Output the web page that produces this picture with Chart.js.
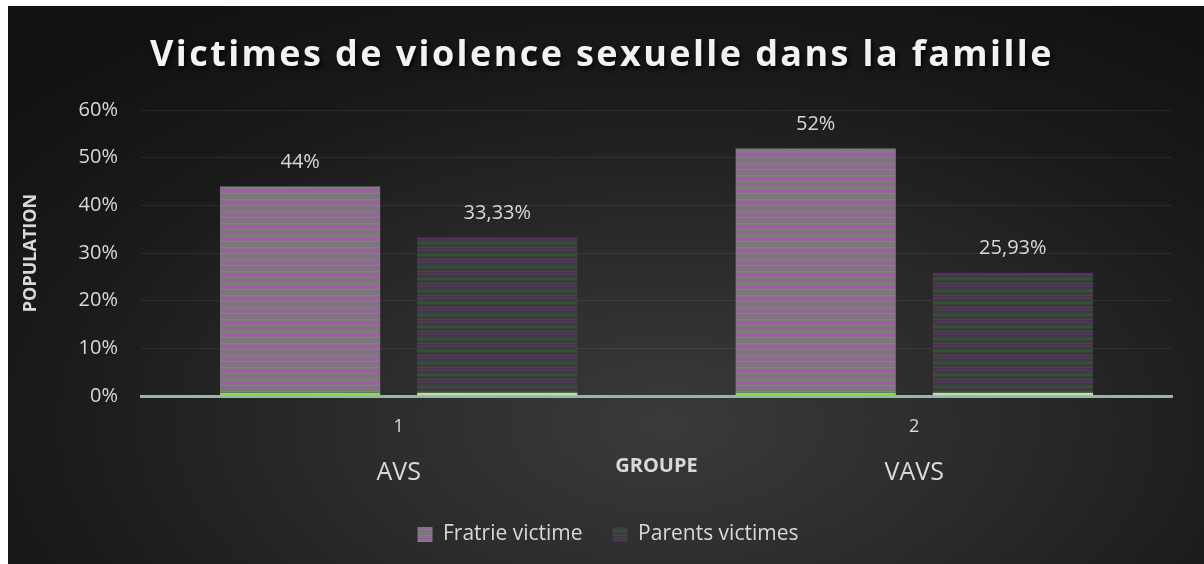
<!DOCTYPE html>
<html>
<head>
<meta charset="utf-8">
<script src="https://cdn.jsdelivr.net/npm/chart.js@4.4.1/dist/chart.umd.min.js"></script>
<style>
  html, body { margin: 0; padding: 0; background: #ffffff; }
  #wrap {
    position: absolute; left: 8px; top: 6px; width: 1196px; height: 558px;
    background: radial-gradient(ellipse 75% 90% at 55% 75%, #3a3a3a 0%, #2b2b2b 35%, #1a1a1a 70%, #111111 100%);
  }
  canvas { display: block; }
</style>
</head>
<body>
<div id="wrap"><canvas id="chart" width="1196" height="558"></canvas></div>
<script>
// Victimes de violence sexuelle dans la famille
const chartTitle = 'Victimes de violence sexuelle dans la famille';
const categories = ['1', '2'];
const groupNames = ['AVS', 'VAVS'];
const seriesNames = ['Fratrie victime', 'Parents victimes'];
const fratrie = [44, 52];
const parents = [33.33, 25.93];
const yTicks = [0, 10, 20, 30, 40, 50, 60];

const FONT = "'Open Sans', 'DejaVu Sans', sans-serif";
const TEXT = '#d9d9d9';

// striped fill, like the excel texture
function stripes(rows) {
    const c = document.createElement('canvas');
    c.width = 4;
    c.height = rows.length;
    const g = c.getContext('2d');
    rows.forEach((col, i) => {
        g.fillStyle = col;
        g.fillRect(0, i, 4, 1);
    });
    return document.getElementById('chart').getContext('2d').createPattern(c, 'repeat');
}

const gA = '#7c767e', gG = '#5e9a60', gP = '#a05aa6', gM = '#877088';
const fratrieFill = stripes([gA, gG, gA, gM, gP, gA, gM, gG, gA, gP, gM, gA]);
const dA = '#3c3a3d', dG = '#2f5a35', dP = '#573560', dM = '#463c48';
const parentsFill = stripes([dA, dG, dA, dM, dP, dA, dM, dA, dG, dP, dA, dA]);

function pct(v) {
    return (Number.isInteger(v) ? String(v) : v.toFixed(2).replace('.', ',')) + '%';
}

const titlePlugin = {
    id: 'bigTitle',
    afterDraw(chart) {
        const ctx = chart.ctx;
        ctx.save();
        ctx.font = 'bold 36px ' + FONT;
        ctx.letterSpacing = '2.4px';
        ctx.textAlign = 'center';
        ctx.textBaseline = 'middle';
        ctx.shadowColor = 'rgba(0,0,0,0.85)';
        ctx.shadowBlur = 5;
        ctx.shadowOffsetX = 2;
        ctx.shadowOffsetY = 3;
        ctx.fillStyle = '#f2f2f2';
        ctx.fillText(chartTitle, 594, 50);
        ctx.restore();
    }
};

const labelPlugin = {
    id: 'valueLabels',
    afterDatasetsDraw(chart) {
        const ctx = chart.ctx;
        ctx.save();
        ctx.font = '20px ' + FONT;
        ctx.fillStyle = TEXT;
        ctx.textAlign = 'center';
        ctx.textBaseline = 'middle';
        chart.data.datasets.forEach((ds, i) => {
            chart.getDatasetMeta(i).data.forEach((bar, j) => {
                ctx.fillText(pct(ds.data[j]), bar.x, bar.y - 24);
            });
        });
        // group names under the category numbers
        const x = chart.scales.x;
        ctx.font = '25px ' + FONT;
        groupNames.forEach((name, j) => {
            ctx.fillText(name, x.getPixelForValue(j), chart.chartArea.bottom + 77);
        });
        ctx.restore();
    }
};

new Chart(document.getElementById('chart'), {
    type: 'bar',
    data: {
        labels: categories,
        datasets: [
            {
                label: seriesNames[0], data: fratrie, backgroundColor: fratrieFill,
                borderColor: '#7ee04a', borderWidth: { top: 0, left: 0, right: 0, bottom: 3 }, borderSkipped: false
            },
            {
                label: seriesNames[1], data: parents, backgroundColor: parentsFill,
                borderColor: '#b4e6a0', borderWidth: { top: 0, left: 0, right: 0, bottom: 3 }, borderSkipped: false
            }
        ]
    },
    options: {
        responsive: false,
        animation: false,
        layout: { padding: { top: 104, right: 32, bottom: 9, left: 36 } },
        categoryPercentage: 0.765,
        barPercentage: 0.814,
        plugins: {
            title: { display: false },
            tooltip: { enabled: false },
            legend: {
                position: 'bottom',
                labels: {
                    color: TEXT, font: { family: FONT, size: 21 },
                    boxWidth: 15, boxHeight: 15, padding: 30,
                    generateLabels(chart) {
                        return chart.data.datasets.map((ds, i) => ({
                            text: ds.label, fillStyle: ds.backgroundColor, strokeStyle: 'rgba(0,0,0,0)',
                            lineWidth: 0, fontColor: TEXT, datasetIndex: i
                        }));
                    }
                }
            }
        },
        scales: {
            x: {
                grid: { display: false },
                border: { display: true, color: '#9fb0b0', width: 3 },
                ticks: { color: TEXT, font: { family: FONT, size: 18 }, padding: 12 },
                title: {
                    display: true, text: 'GROUPE', color: TEXT,
                    font: { family: FONT, size: 20, weight: 'bold' }, padding: { top: 0, bottom: 16 }
                },
                afterFit(scale) { scale.height = 98; }
            },
            y: {
                min: 0, max: 60,
                afterBuildTicks(scale) { scale.ticks = yTicks.map(v => ({ value: v })); },
                grid: { color: 'rgba(255,255,255,0.07)', lineWidth: 1, drawTicks: false },
                border: { display: false },
                ticks: { color: TEXT, font: { family: FONT, size: 20 }, padding: 23, callback: v => v + '%' },
                title: {
                    display: true, text: 'POPULATION', color: TEXT,
                    font: { family: FONT, size: 18, weight: 'bold' }, padding: { top: -24, bottom: 0 }
                },
                afterFit(scale) { scale.width = 97; }
            }
        }
    },
    plugins: [titlePlugin, labelPlugin]
});
</script>
</body>
</html>
